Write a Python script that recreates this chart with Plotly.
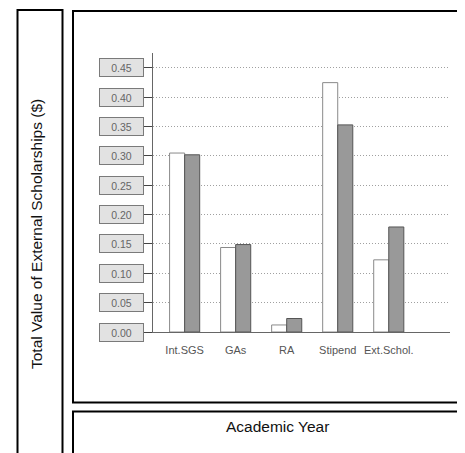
import plotly.graph_objects as go

categories = ["Int.SGS", "GAs", "RA", "Stipend", "Ext.Schol."]
series_a = [0.305, 0.144, 0.012, 0.425, 0.123]
series_b = [0.302, 0.149, 0.023, 0.353, 0.179]
y_ticks = [0.00, 0.05, 0.10, 0.15, 0.20, 0.25, 0.30, 0.35, 0.40, 0.45]
y_tick_labels = ["0.00", "0.05", "0.10", "0.15", "0.20", "0.25", "0.30", "0.35", "0.40", "0.45"]
y_title = "Total Value of External Scholarships ($)"
x_title = "Academic Year"

W, H = 465, 453
OFF = 8  # page body margin
FONT = "Liberation Sans, Arial, sans-serif"

def px(x):
    return (x - OFF) / W

def py(y):
    return 1 - (y - OFF) / H

fig = go.Figure()
fig.add_trace(go.Bar(x=categories, y=series_a, name="Year 1",
                     marker=dict(color="#ffffff", line=dict(color="#8a8a8a", width=1))))
fig.add_trace(go.Bar(x=categories, y=series_b, name="Year 2",
                     marker=dict(color="#999999", line=dict(color="#555555", width=1))))

annotations = []
for v, t in zip(y_ticks, y_tick_labels):
    annotations.append(dict(
        x=px(121.5), xref="paper", y=v, yref="y", text=t, showarrow=False,
        font=dict(family=FONT, size=10.5, color="#666666"),
        bgcolor="#e2e2e2", bordercolor="#7a7a7a", borderwidth=1, borderpad=1,
        width=41, height=15, xanchor="center", yanchor="middle"))

annotations.append(dict(
    x=px(36), xref="paper", y=py(234), yref="paper", text=y_title, showarrow=False,
    textangle=-90, font=dict(family=FONT, size=15.5, color="#111111"),
    xanchor="center", yanchor="middle"))
annotations.append(dict(
    x=px(277), xref="paper", y=py(426), yref="paper", text=x_title, showarrow=False,
    font=dict(family=FONT, size=15.5, color="#111111"),
    xanchor="center", yanchor="middle"))

shapes = [
    dict(type="rect", xref="paper", yref="paper", x0=px(17.5), x1=px(62.5),
         y0=-0.1, y1=py(10), line=dict(color="#000000", width=2), fillcolor="rgba(0,0,0,0)"),
    dict(type="rect", xref="paper", yref="paper", x0=px(73), x1=1.1,
         y0=py(402.5), y1=py(11), line=dict(color="#000000", width=2), fillcolor="rgba(0,0,0,0)"),
    dict(type="rect", xref="paper", yref="paper", x0=px(73), x1=1.1,
         y0=-0.1, y1=py(411.5), line=dict(color="#000000", width=2), fillcolor="rgba(0,0,0,0)"),
]

fig.update_layout(
    width=W, height=H,
    margin=dict(l=0, r=0, t=0, b=0),
    paper_bgcolor="white", plot_bgcolor="white",
    showlegend=False,
    barmode="group", bargap=0.41, bargroupgap=0,
    annotations=annotations, shapes=shapes,
    xaxis=dict(domain=[px(153), px(450)], range=[-0.62, 5.2],
               showline=True, linecolor="#666666", linewidth=1,
               ticks="outside", ticklen=8, tickcolor="rgba(0,0,0,0)",
               tickfont=dict(family=FONT, size=11, color="#555555"),
               showgrid=False, zeroline=False, fixedrange=True),
    yaxis=dict(domain=[py(332), py(53)], range=[0, 0.4755],
               tickvals=y_ticks, showticklabels=False,
               ticks="outside", ticklen=9, tickcolor="#444444", tickwidth=1,
               showline=True, linecolor="#666666", linewidth=1,
               showgrid=True, gridcolor="#a0a0a0", griddash="1px,2px", gridwidth=1,
               zeroline=False, fixedrange=True),
)

fig.write_html("out.html",
               post_script="document.documentElement.style.overflow='hidden';document.body.style.overflow='hidden';")
